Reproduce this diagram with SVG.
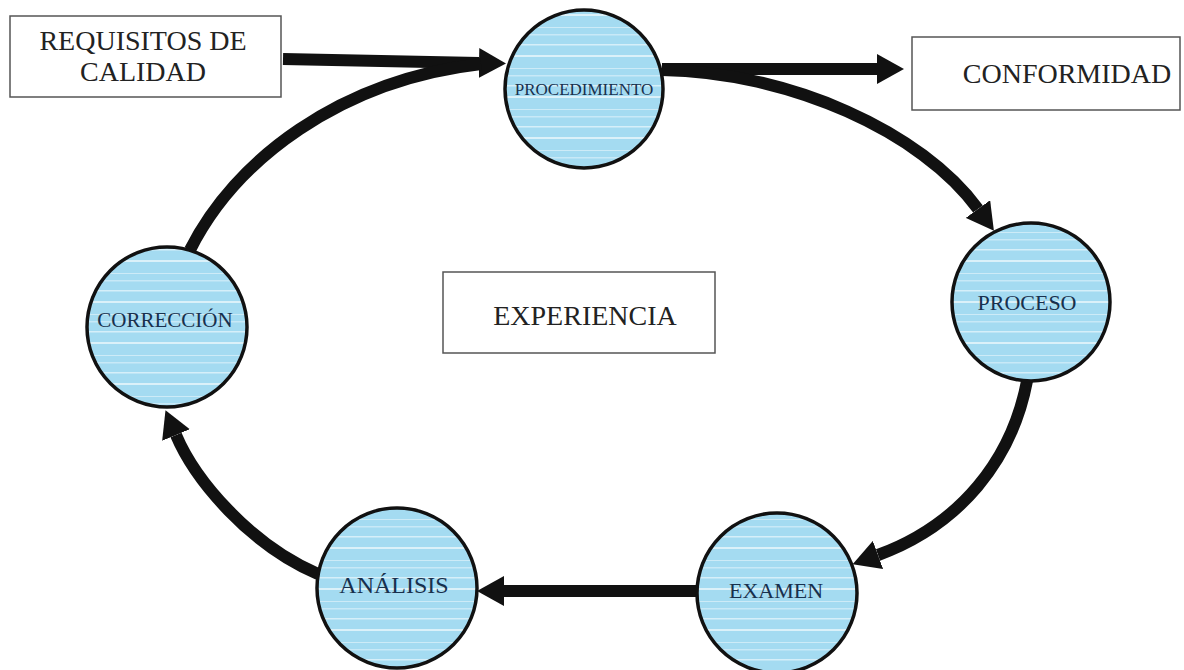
<svg xmlns="http://www.w3.org/2000/svg" width="1184" height="670" viewBox="0 0 1184 670">
<style>
.box{fill:#fff;stroke:#555;stroke-width:1.5}
.boxtxt{font-family:"Liberation Serif","Times New Roman",serif;font-size:28px;fill:#222;text-anchor:middle}
.circ{fill:url(#stripes);stroke:#111;stroke-width:3.5}
.ctxt{font-family:"Liberation Serif","Times New Roman",serif;fill:#18304d;text-anchor:middle}
.conn{fill:none;stroke:#111;stroke-width:12}
</style>
<defs>
<pattern id="stripes" patternUnits="userSpaceOnUse" width="200" height="41">
<rect width="200" height="41" fill="#a4dbf1"/>
<rect y="3" width="200" height="1.5" fill="#fff" opacity="0.55"/>
<rect y="14" width="200" height="2" fill="#fff" opacity="0.6"/>
<rect y="27" width="200" height="1" fill="#fff" opacity="0.45"/>
<rect y="34" width="200" height="1.5" fill="#fff" opacity="0.4"/>
</pattern>
<marker id="ah" markerUnits="userSpaceOnUse" markerWidth="28" markerHeight="30" refX="0" refY="15" orient="auto" viewBox="0 0 28 30">
<path d="M0,0 L27,15 L0,30 Z" fill="#111"/>
</marker>
</defs>

<g id="connectors">
<path class="conn" d="M283 59 L479 63" marker-end="url(#ah)"/>
<path class="conn" d="M190 250 C235 160 340 80 481 64"/>
<path class="conn" d="M662 69 L877 69" marker-end="url(#ah)"/>
<path class="conn" d="M662 70 C790 72 922 132 978 209" marker-end="url(#ah)"/>
<path class="conn" d="M1027 381 C1012 460 960 525 878 555" marker-end="url(#ah)"/>
<path class="conn" d="M697 591 L504 591" marker-end="url(#ah)"/>
<path class="conn" d="M318 574 C250 545 195 480 176 435" marker-end="url(#ah)"/>
</g>

<g id="requisitos">
<rect class="box" x="10" y="16" width="271" height="81"/>
<text class="boxtxt" x="143" y="50">REQUISITOS DE</text>
<text class="boxtxt" x="143" y="81">CALIDAD</text>
</g>

<g id="conformidad">
<rect class="box" x="912" y="37" width="268" height="73"/>
<text class="boxtxt" x="1067" y="83">CONFORMIDAD</text>
</g>

<g id="experiencia">
<rect class="box" x="443" y="272" width="272" height="81"/>
<text class="boxtxt" x="585" y="325">EXPERIENCIA</text>
</g>

<g id="procedimiento">
<circle class="circ" cx="584" cy="89" r="79"/>
<text class="ctxt" x="584" y="95" font-size="17">PROCEDIMIENTO</text>
</g>

<g id="proceso">
<circle class="circ" cx="1031" cy="302" r="79"/>
<text class="ctxt" x="1027" y="310" font-size="22">PROCESO</text>
</g>

<g id="examen">
<circle class="circ" cx="777" cy="593" r="80"/>
<text class="ctxt" x="776" y="598" font-size="22">EXAMEN</text>
</g>

<g id="analisis">
<circle class="circ" cx="397" cy="588" r="80"/>
<text class="ctxt" x="394" y="593" font-size="24">ANÁLISIS</text>
</g>

<g id="correccion">
<circle class="circ" cx="167" cy="327" r="80"/>
<text class="ctxt" x="165" y="327" font-size="21">CORRECCIÓN</text>
</g>
</svg>
